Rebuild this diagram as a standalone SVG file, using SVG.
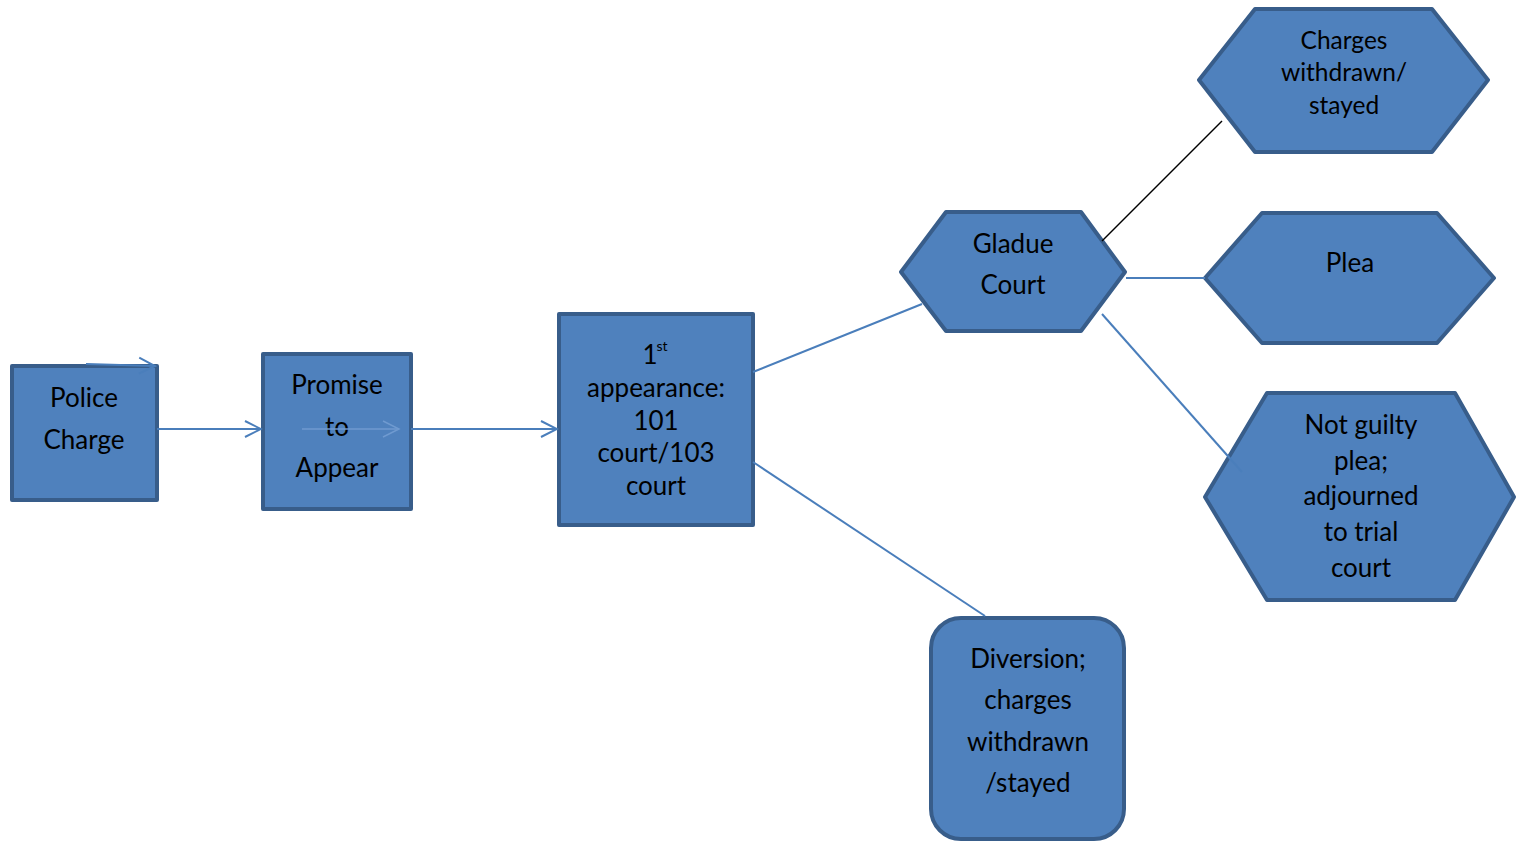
<svg xmlns="http://www.w3.org/2000/svg" width="1516" height="843" viewBox="0 0 1516 843">
<defs>
<style>
.n{fill:#4f81bd;stroke:#385d8a;stroke-width:4;stroke-linejoin:round}
.t{font-family:Lato,"Open Sans","Liberation Sans",sans-serif;font-size:26px;fill:#000;text-anchor:middle}
.c{stroke:#4a7ebb;stroke-width:2;fill:none}
</style>
<marker id="ah" viewBox="0 0 20 20" refX="18" refY="10" markerWidth="20" markerHeight="20" markerUnits="userSpaceOnUse" orient="auto">
<path d="M2,2 L18,10 L2,18" fill="none" stroke="#4a7ebb" stroke-width="2"/>
</marker>
<marker id="ah2" viewBox="0 0 20 20" refX="18" refY="10" markerWidth="20" markerHeight="20" markerUnits="userSpaceOnUse" orient="auto">
<path d="M2,2 L18,10 L2,18" fill="none" stroke="#6f9ad0" stroke-width="1.5"/>
</marker>
</defs>
<rect width="1516" height="843" fill="#fff"/>
<g id="police">
<rect class="n" x="12" y="366" width="145" height="134"/>
<text class="t"><tspan x="84" y="407">Police</tspan><tspan x="84" y="449">Charge</tspan></text>
</g>
<g id="promise">
<rect class="n" x="263" y="354" width="148" height="155"/>
<text class="t"><tspan x="337" y="394">Promise</tspan><tspan x="337" y="436">to</tspan><tspan x="337" y="477">Appear</tspan></text>
</g>
<g id="first">
<rect class="n" x="559" y="314" width="194" height="211"/>
<text class="t"><tspan x="650" y="364">1</tspan><tspan x="662" y="351" style="font-size:14px">st</tspan><tspan x="656" y="397">appearance:</tspan><tspan x="656" y="430">101</tspan><tspan x="656" y="462">court/103</tspan><tspan x="656" y="495">court</tspan></text>
</g>
<g id="gladue">
<polygon class="n" points="901,272 946,212 1081,212 1125,272 1081,331 946,331"/>
<text class="t"><tspan x="1013" y="253">Gladue</tspan><tspan x="1013" y="294">Court</tspan></text>
</g>
<g id="charges">
<polygon class="n" points="1199,80 1255,9 1432,9 1488,80 1432,152 1255,152"/>
<text class="t" style="font-size:24.5px"><tspan x="1344" y="49">Charges</tspan><tspan x="1344" y="81">withdrawn/</tspan><tspan x="1344" y="114">stayed</tspan></text>
</g>
<g id="plea">
<polygon class="n" points="1205,278 1262,213 1437,213 1494,278 1437,343 1262,343"/>
<text class="t"><tspan x="1350" y="272">Plea</tspan></text>
</g>
<g id="notguilty">
<polygon class="n" points="1205,497 1267,393 1455,393 1514,497 1455,600 1267,600"/>
<text class="t"><tspan x="1361" y="434">Not guilty</tspan><tspan x="1361" y="470">plea;</tspan><tspan x="1361" y="505">adjourned</tspan><tspan x="1361" y="541">to trial</tspan><tspan x="1361" y="577">court</tspan></text>
</g>
<g id="diversion">
<rect class="n" x="931" y="618" width="193" height="221" rx="30" ry="30"/>
<text class="t"><tspan x="1028" y="668">Diversion;</tspan><tspan x="1028" y="709">charges</tspan><tspan x="1028" y="751">withdrawn</tspan><tspan x="1028" y="792">/stayed</tspan></text>
</g>
<g id="connectors">
<line class="c" x1="86" y1="364" x2="155" y2="366" marker-end="url(#ah)"/>
<line class="c" x1="157" y1="429" x2="261" y2="429" marker-end="url(#ah)"/>
<line x1="302" y1="429" x2="399" y2="429" stroke="#6f9ad0" stroke-width="1.5" marker-end="url(#ah2)"/>
<line class="c" x1="411" y1="429" x2="557" y2="429" marker-end="url(#ah)"/>
<line class="c" x1="753" y1="372" x2="922" y2="304"/>
<line class="c" x1="753" y1="462" x2="985" y2="616"/>
<line x1="1102" y1="241" x2="1222" y2="121" stroke="#000" stroke-width="1.5"/>
<line class="c" x1="1126" y1="278" x2="1205" y2="278"/>
<line class="c" x1="1102" y1="314" x2="1242" y2="472"/>
</g>
</svg>
